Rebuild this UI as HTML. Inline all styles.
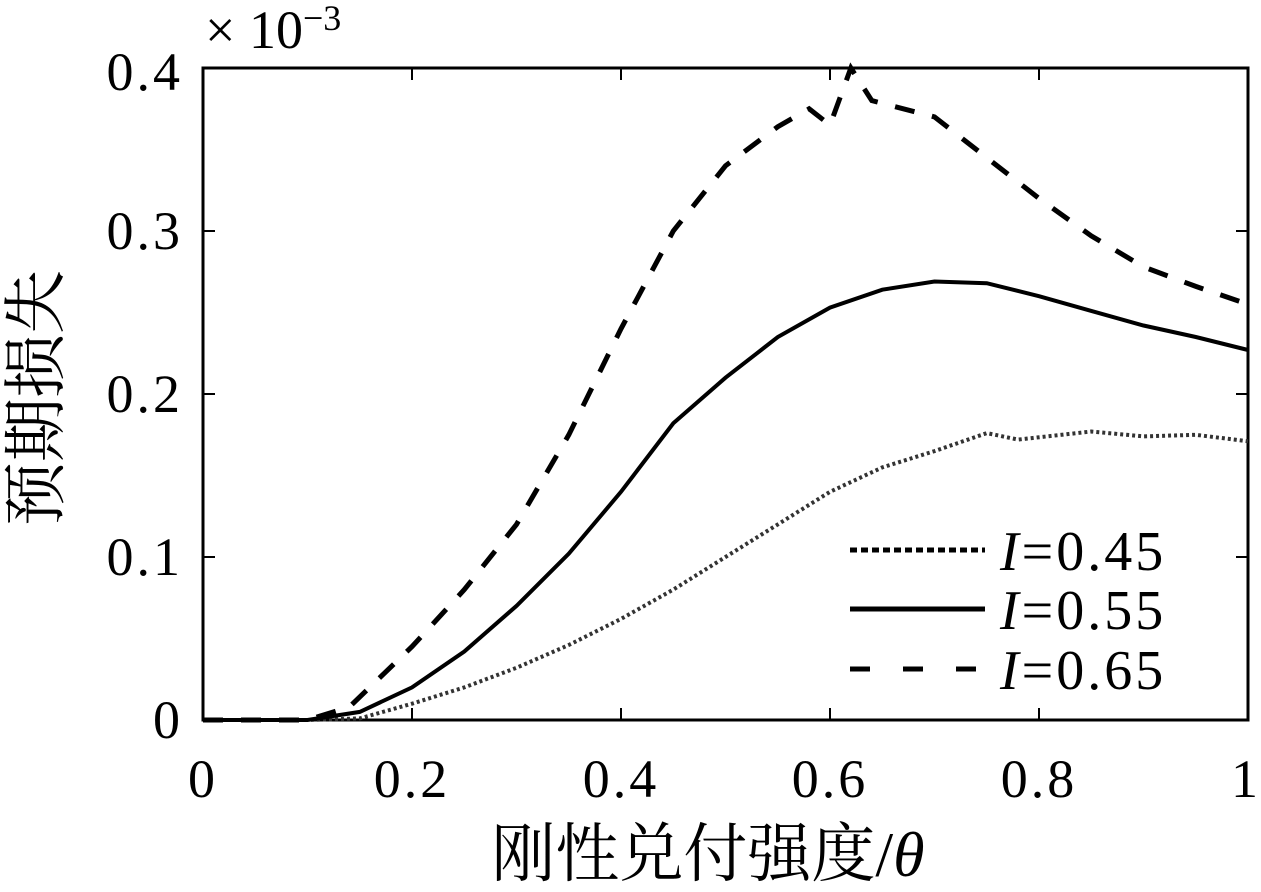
<!DOCTYPE html>
<html><head><meta charset="utf-8"><style>
html,body{margin:0;padding:0;background:#fff;}
svg text{font-family:"Liberation Serif","Noto Serif CJK SC",serif;fill:#000;}
</style></head><body>
<svg id="s" width="1261" height="887" viewBox="0 0 1261 887" xmlns="http://www.w3.org/2000/svg">
<rect x="203" y="68" width="1045" height="652" fill="none" stroke="#000" stroke-width="3"/>
<g id="ticks" stroke="#000" stroke-width="2"></g>
<g font-size="54" text-anchor="end" letter-spacing="3">
<text x="183" y="738">0</text>
<text x="183" y="575">0.1</text>
<text x="183" y="412">0.2</text>
<text x="183" y="249">0.3</text>
<text x="183" y="90">0.4</text>
</g>
<g font-size="54" text-anchor="middle" letter-spacing="3">
<text x="203" y="797">0</text>
<text x="412" y="797">0.2</text>
<text x="621" y="797">0.4</text>
<text x="830" y="797">0.6</text>
<text x="1039" y="797">0.8</text>
<text x="1246" y="797">1</text>
</g>
<text x="205" y="48" font-size="54">× 10<tspan font-size="36" dy="-18">−3</tspan></text>
<text x="708" y="876" font-size="64" text-anchor="middle">刚性兑付强度/<tspan font-style="italic">θ</tspan></text>
<text transform="translate(58,398) rotate(-90)" font-size="64" text-anchor="middle">预期损失</text>
<g id="curves" fill="none" stroke="#000"></g>
<line x1="850" y1="550" x2="985" y2="550" stroke="#000" stroke-width="5" stroke-dasharray="7,4"/>
<line x1="850" y1="609" x2="985" y2="609" stroke="#000" stroke-width="5"/>
<line x1="850" y1="669" x2="985" y2="669" stroke="#000" stroke-width="5" stroke-dasharray="20,33"/>
<g font-size="56" letter-spacing="3">
<text x="1000" y="570"><tspan font-style="italic">I</tspan>=0.45</text>
<text x="1000" y="629"><tspan font-style="italic">I</tspan>=0.55</text>
<text x="1000" y="689"><tspan font-style="italic">I</tspan>=0.65</text>
</g>
</svg>
<script>
var X=function(x){return 203+x*1045},Y=function(y){return 720-y*1630};
var t=document.getElementById('ticks'),h='';
for(var i=1;i<5;i++){var x=X(i*0.2);h+='<line x1="'+x+'" y1="720" x2="'+x+'" y2="708"/><line x1="'+x+'" y1="68" x2="'+x+'" y2="80"/>';}
for(var i=1;i<4;i++){var y=Y(i*0.1);h+='<line x1="203" y1="'+y+'" x2="215" y2="'+y+'"/><line x1="1248" y1="'+y+'" x2="1236" y2="'+y+'"/>';}
t.innerHTML=h;
function p(a){return 'M'+a.map(function(q){return X(q[0]).toFixed(1)+','+Y(q[1]).toFixed(1)}).join(' L');}
var d1=[[0,0],[0.1,0],[0.15,0.001],[0.2,0.01],[0.25,0.02],[0.3,0.032],[0.35,0.046],[0.4,0.062],[0.45,0.08],[0.5,0.1],[0.55,0.12],[0.6,0.14],[0.65,0.155],[0.7,0.165],[0.75,0.176],[0.78,0.172],[0.85,0.177],[0.9,0.174],[0.95,0.175],[1,0.171]];
var d2=[[0,0],[0.1,0],[0.15,0.005],[0.2,0.02],[0.25,0.042],[0.3,0.07],[0.35,0.102],[0.4,0.14],[0.45,0.182],[0.5,0.21],[0.53,0.225],[0.55,0.235],[0.6,0.253],[0.65,0.264],[0.7,0.269],[0.75,0.268],[0.8,0.26],[0.85,0.251],[0.9,0.242],[0.95,0.235],[1,0.227]];
var d3=[[0,0],[0.1,0],[0.14,0.008],[0.2,0.045],[0.25,0.08],[0.3,0.12],[0.35,0.175],[0.4,0.24],[0.45,0.3],[0.5,0.34],[0.55,0.364],[0.58,0.375],[0.6,0.365],[0.62,0.4],[0.64,0.38],[0.7,0.37],[0.75,0.345],[0.8,0.32],[0.85,0.297],[0.9,0.278],[0.95,0.266],[1,0.255]];
document.getElementById('curves').innerHTML=
'<path d="'+p(d1)+'" stroke-width="4" stroke-dasharray="3,3" stroke="#333"/>'+
'<path d="'+p(d2)+'" stroke-width="4"/>'+
'<path d="'+p(d3)+'" stroke-width="5" stroke-dasharray="20,18"/>';
</script>
</body></html>
